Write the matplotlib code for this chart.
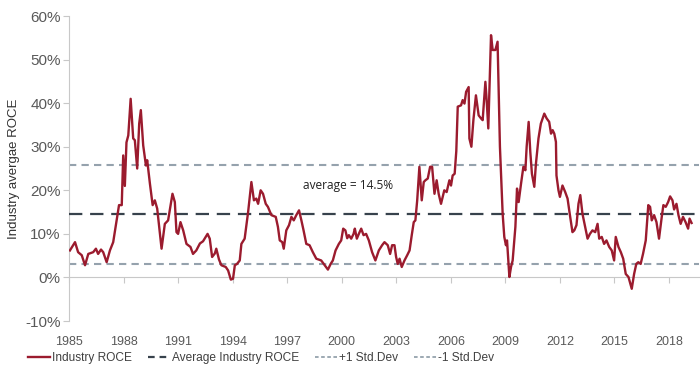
import matplotlib
matplotlib.use("Agg")
from matplotlib import pyplot as plt
from matplotlib.lines import Line2D

# valores (ano decimal, ROCE em %)
anos = [1985.05, 1985.33, 1985.5, 1985.7, 1985.88, 1986.06, 1986.33, 1986.48, 1986.6, 1986.76,
        1986.88, 1987.07, 1987.25, 1987.43, 1987.62, 1987.75, 1987.9, 1987.98, 1988.07, 1988.16,
        1988.26, 1988.39, 1988.53, 1988.62, 1988.75, 1988.86, 1988.95, 1989.08, 1989.23, 1989.3,
        1989.45, 1989.6, 1989.72, 1989.85, 1990.09, 1990.27, 1990.45, 1990.69, 1990.82, 1990.91,
        1991.0, 1991.13, 1991.28, 1991.46, 1991.68, 1991.82, 1992.0, 1992.2, 1992.37, 1992.62,
        1992.74, 1992.87, 1993.02, 1993.1, 1993.25, 1993.38, 1993.62, 1993.75, 1993.9, 1994.02,
        1994.12, 1994.24, 1994.39, 1994.48, 1994.66, 1994.85, 1995.03, 1995.17, 1995.3, 1995.4,
        1995.54, 1995.67, 1995.82, 1995.94, 1996.13, 1996.37, 1996.49, 1996.59, 1996.73, 1996.81,
        1996.95, 1997.1, 1997.23, 1997.36, 1997.5, 1997.65, 1997.78, 1997.9, 1998.05, 1998.23,
        1998.41, 1998.6, 1998.87, 1999.06, 1999.24, 1999.39, 1999.51, 1999.66, 1999.84, 1999.97,
        2000.08, 2000.2, 2000.3, 2000.39, 2000.52, 2000.65, 2000.72, 2000.83, 2000.94, 2001.07,
        2001.2, 2001.34, 2001.49, 2001.67, 2001.85, 2002.04, 2002.22, 2002.35, 2002.53, 2002.66,
        2002.77, 2002.9, 2002.99, 2003.08, 2003.18, 2003.3, 2003.45, 2003.6, 2003.73, 2003.85,
        2003.96, 2004.05, 2004.15, 2004.27, 2004.4, 2004.51, 2004.6, 2004.73, 2004.86, 2004.97,
        2005.1, 2005.22, 2005.33, 2005.46, 2005.64, 2005.77, 2005.92, 2006.01, 2006.1, 2006.21,
        2006.3, 2006.38, 2006.56, 2006.65, 2006.75, 2006.84, 2006.98, 2007.02, 2007.13, 2007.24,
        2007.38, 2007.53, 2007.66, 2007.75, 2007.9, 2007.97, 2008.06, 2008.21, 2008.3, 2008.45,
        2008.57, 2008.7, 2008.85, 2008.94, 2009.03, 2009.09, 2009.22, 2009.31, 2009.4, 2009.55,
        2009.64, 2009.73, 2009.86, 2009.99, 2010.1, 2010.17, 2010.28, 2010.37, 2010.46, 2010.59,
        2010.68, 2010.82, 2010.95, 2011.14, 2011.27, 2011.41, 2011.51, 2011.6, 2011.69, 2011.78,
        2011.81, 2011.92, 2012.0, 2012.14, 2012.29, 2012.42, 2012.55, 2012.69, 2012.79, 2012.91,
        2013.02, 2013.12, 2013.24, 2013.39, 2013.52, 2013.65, 2013.79, 2013.94, 2014.07, 2014.16,
        2014.3, 2014.43, 2014.56, 2014.71, 2014.85, 2014.98, 2015.07, 2015.22, 2015.35, 2015.48,
        2015.62, 2015.77, 2015.95, 2016.08, 2016.2, 2016.31, 2016.44, 2016.57, 2016.72, 2016.86,
        2016.96, 2017.05, 2017.18, 2017.31, 2017.45, 2017.6, 2017.69, 2017.82, 2017.95, 2018.06,
        2018.19, 2018.28, 2018.41, 2018.52, 2018.64, 2018.77, 2018.91, 2019.05, 2019.13, 2019.24]

roce = [6.2, 8.1, 5.8, 5.1, 2.8, 5.4, 5.8, 6.6, 5.4, 6.4,
        5.8, 3.5, 6.2, 8.1, 13.1, 16.6, 16.6, 28.0, 21.0, 31.0,
        32.6, 41.0, 31.9, 31.5, 25.0, 35.3, 38.4, 30.3, 25.7, 26.9,
        21.5, 16.6, 17.7, 15.8, 6.6, 12.3, 13.1, 19.2, 17.3, 10.4,
        10.0, 12.7, 10.8, 7.7, 7.0, 5.4, 6.2, 7.8, 8.3, 10.0,
        8.9, 4.7, 5.5, 6.6, 4.1, 2.8, 2.4, 1.6, -0.5, -0.3,
        2.8, 3.1, 3.9, 7.7, 8.9, 15.0, 21.9, 17.7, 18.1, 16.9,
        20.0, 19.2, 16.9, 16.2, 14.3, 13.9, 11.6, 8.5, 8.1, 6.6,
        10.8, 12.0, 13.9, 13.1, 14.3, 15.4, 13.1, 10.8, 7.7, 7.4,
        5.8, 4.3, 3.9, 2.8, 1.8, 3.1, 3.9, 6.2, 7.7, 8.5,
        11.2, 10.8, 9.0, 9.7, 8.9, 10.0, 11.2, 8.9, 10.0, 11.2,
        9.7, 10.0, 8.5, 5.8, 3.9, 6.2, 7.4, 8.1, 7.4, 5.4,
        7.4, 7.4, 4.7, 3.1, 4.3, 2.4, 3.9, 5.1, 6.2, 9.7,
        12.7, 13.1, 17.7, 25.4, 17.7, 21.9, 22.3, 22.7, 25.4, 25.4,
        19.2, 22.3, 19.2, 16.9, 20.0, 19.6, 22.3, 21.1, 23.4, 23.8,
        29.0, 39.2, 39.5, 40.7, 39.9, 42.6, 43.7, 31.9, 30.0, 36.1,
        41.8, 37.2, 36.5, 36.1, 44.9, 40.7, 34.2, 55.6, 52.2, 52.2,
        54.1, 30.0, 14.6, 9.3, 7.4, 8.5, 0.1, 2.4, 3.9, 11.6,
        20.4, 17.3, 21.5, 25.4, 24.6, 30.0, 35.7, 28.8, 23.8, 20.8,
        26.1, 31.9, 35.3, 37.6, 36.5, 35.7, 33.0, 33.8, 33.0, 31.1,
        23.4, 20.0, 18.5, 21.1, 19.6, 18.1, 14.3, 10.4, 10.8, 12.0,
        16.9, 18.9, 14.6, 11.6, 8.9, 10.0, 10.8, 10.4, 12.3, 8.9,
        9.3, 7.7, 8.5, 7.0, 6.2, 3.9, 9.3, 7.0, 5.8, 4.3,
        0.8, 0.1, -2.6, 0.8, 3.1, 3.5, 3.1, 5.4, 8.5, 16.6,
        16.2, 13.1, 14.3, 12.7, 8.9, 13.9, 16.6, 16.2, 17.3, 18.6,
        17.7, 15.6, 16.9, 14.3, 12.3, 13.9, 12.7, 11.2, 13.5, 12.5]

media = 14.5
desvio = 11.3
anos_ticks = list(range(1985, 2019, 3))
y_ticks = [-10, 0, 10, 20, 30, 40, 50, 60]

plt.rcParams['font.family'] = ['Liberation Sans', 'DejaVu Sans']

fig = plt.figure(figsize=(7, 3.77), dpi=100)
ax = fig.add_axes([0.0986, 0.1485, 0.9, 0.809])

vermelho = '#9b1b2e'
escuro = '#37424c'
cinza = '#95a2ad'

ax.plot(anos, roce, color=vermelho, lw=1.7, zorder=4)
ax.axhline(media, color=escuro, lw=1.6, dashes=(6, 3.5), zorder=3)
ax.axhline(media + desvio, color=cinza, lw=1.5, dashes=(3.5, 2.5), zorder=2)
ax.axhline(media - desvio, color=cinza, lw=1.5, dashes=(3.5, 2.5), zorder=2)

ax.text(1997.85, 21.1, 'average = 14.5%', fontsize=8.6, color='#222222',
        family=['Open Sans', 'DejaVu Sans'], ha='left', va='center')

ax.set_xlim(1985, 2019.65)
ax.set_ylim(-10, 60)
ax.set_xticks(anos_ticks)
ax.set_xticklabels([str(a) for a in anos_ticks])
ax.set_yticks(y_ticks)
ax.set_yticklabels([f'{v}%' for v in y_ticks])

for s in ['top', 'right']:
    ax.spines[s].set_visible(False)
ax.spines['left'].set_color('#c8c8c8')
ax.spines['bottom'].set_color('#c8c8c8')
ax.spines['bottom'].set_position(('data', 0))
ax.tick_params(axis='y', colors='#c8c8c8', labelcolor='#595959', labelsize=11, length=4, pad=2)
ax.tick_params(axis='x', colors='#c8c8c8', labelcolor='#595959', labelsize=9, length=4, pad=38)

ax.set_ylabel('Industry avergae ROCE', fontsize=9.5, color='#333333', labelpad=4)

# legenda com tracejado menor, como no original
handles = [Line2D([], [], color=vermelho, lw=1.7),
           Line2D([], [], color=escuro, lw=1.6, dashes=(3, 2.2)),
           Line2D([], [], color=cinza, lw=1.3, dashes=(2, 1.4)),
           Line2D([], [], color=cinza, lw=1.3, dashes=(2, 1.4))]
nomes = ['Industry ROCE', 'Average Industry ROCE', '+1 Std.Dev', '-1 Std.Dev']
ax.legend(handles, nomes, loc='center', bbox_to_anchor=(0.373, 0.05), bbox_transform=fig.transFigure,
          ncol=4, frameon=False, fontsize=8.6, handlelength=1.9, handletextpad=0.15,
          columnspacing=1.3, labelcolor='#404040')

plt.savefig('out.png', dpi=100)
